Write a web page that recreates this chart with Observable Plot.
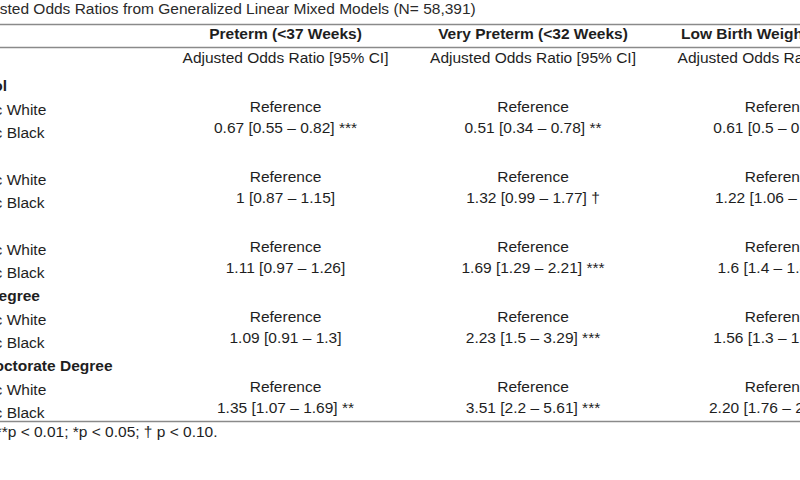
<!DOCTYPE html>
<html><head><meta charset="utf-8">
<script src="https://cdn.jsdelivr.net/npm/d3@7"></script>
<script src="https://cdn.jsdelivr.net/npm/@observablehq/plot@0.6"></script>
<style>
body{margin:0;background:#fff;}
#chart svg{font-family:"Liberation Sans",Arial,sans-serif;}
</style>
</head><body><div id="chart"></div>
<script>
// ---- data ----
const title = "Adjusted Odds Ratios from Generalized Linear Mixed Models (N= 58,391)";
const outcomes = ["Preterm (<37 Weeks)", "Very Preterm (<32 Weeks)", "Low Birth Weight (<2500 g)"];
const subheader = "Adjusted Odds Ratio [95% CI]";
const groups = ["High School", "GED", "Associate", "Bachelor Degree", "Master's/Doctorate Degree"];
const races = ["Non-Hispanic White", "Non-Hispanic Black"];
const referenceLabel = "Reference";
const preterm = ["0.67 [0.55 – 0.82] ***", "1 [0.87 – 1.15]", "1.11 [0.97 – 1.26]", "1.09 [0.91 – 1.3]", "1.35 [1.07 – 1.69] **"];
const veryPreterm = ["0.51 [0.34 – 0.78] **", "1.32 [0.99 – 1.77] †", "1.69 [1.29 – 2.21] ***", "2.23 [1.5 – 3.29] ***", "3.51 [2.2 – 5.61] ***"];
const lowBirthWeight = ["0.61 [0.5 – 0.75] ***", "1.22 [1.06 – 1.41] *", "1.6 [1.4 – 1.83] ***", "1.56 [1.3 – 1.87] ***", "2.20 [1.76 – 2.75] ***"];
const footnote = "***p < 0.001; **p < 0.01; *p < 0.05; † p < 0.10.";

// ---- layout (x in column units: 0,1,2 = outcome columns; y in line units: 0 = first group header) ----
const COL = {title: -1.28, group: -1.49, race: -1.52, foot: -1.542};
const LINE = {title: -3.32, header: -2.27, sub: -1.23, rules: [-2.66, -1.67, 14.36], foot: 14.81};
const REF_SHIFT = -0.12, VAL_SHIFT = -0.2;
const FS = 15.5, INK = "#1e1e1e";

const seriesByCol = [preterm, veryPreterm, lowBirthWeight];
const raceRows = groups.flatMap((g, gi) => races.map((r, ri) => ({label: r, line: gi * 3 + 1 + ri})));
const cells = seriesByCol.flatMap((vals, ci) => vals.flatMap((v, gi) => [
  {col: ci, line: gi * 3 + 1 + REF_SHIFT, text: referenceLabel},
  {col: ci, line: gi * 3 + 2 + VAL_SHIFT, text: v}
]));

const chart = Plot.plot({
  width: 800, height: 480,
  margin: 0,
  x: {type: "linear", domain: [0, 1], range: [285, 532.5], axis: null},
  y: {type: "linear", domain: [0, 1], range: [86, 109.33], axis: null},
  style: {fontFamily: "'Liberation Sans', Arial, sans-serif", background: "#fff"},
  marks: [
    Plot.ruleY(LINE.rules, {stroke: "#8a8a8a", strokeWidth: 1.5}),
    Plot.text([title], {x: () => COL.title, y: () => LINE.title, text: d => d, textAnchor: "start", fontSize: FS, fill: "#2a2a2a"}),
    Plot.text(outcomes, {x: (d, i) => i, y: () => LINE.header, text: d => d, fontSize: FS, fontWeight: "bold", fill: INK}),
    Plot.text(outcomes, {x: (d, i) => i, y: () => LINE.sub, text: () => subheader, fontSize: FS, fill: INK}),
    Plot.text(groups, {x: () => COL.group, y: (d, i) => i * 3, text: d => d, textAnchor: "start", fontSize: FS, fontWeight: "bold", fill: INK}),
    Plot.text(raceRows, {x: () => COL.race, y: "line", text: "label", textAnchor: "start", fontSize: FS, fill: INK}),
    Plot.text(cells, {x: "col", y: "line", text: "text", fontSize: FS, fill: INK}),
    Plot.text([footnote], {x: () => COL.foot, y: () => LINE.foot, text: d => d, textAnchor: "start", fontSize: FS, fill: INK})
  ]
});
document.getElementById("chart").append(chart);
</script>
</body></html>
